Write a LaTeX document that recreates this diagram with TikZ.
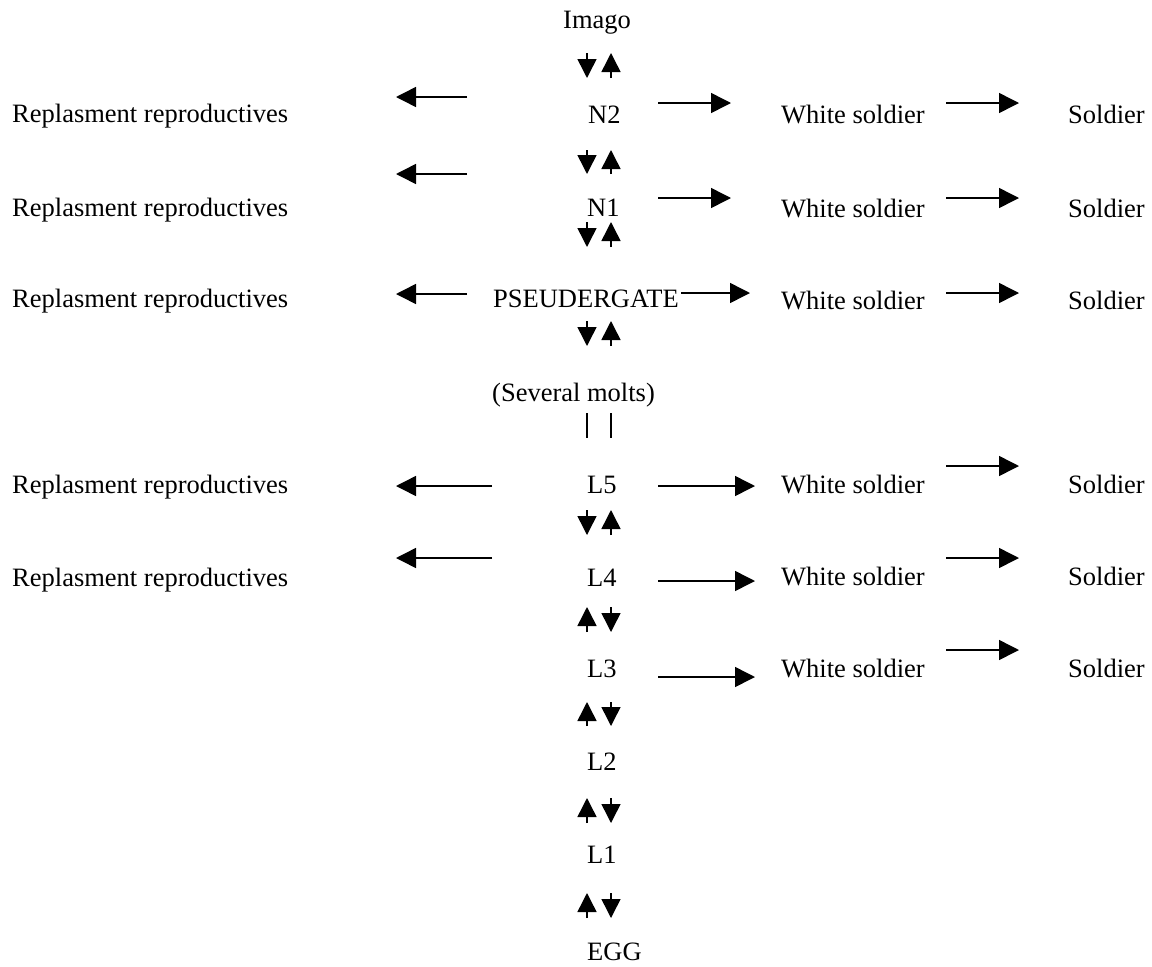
\documentclass[tikz,border=0pt]{standalone}
\usepackage{fontspec}
\setmainfont{Liberation Serif}
\usetikzlibrary{arrows.meta}
\begin{document}
\begin{tikzpicture}[x=1pt,y=-1pt,
  lbl/.style={anchor=base west,inner sep=0pt,font=\fontsize{26.5}{30}\selectfont},
  harrow/.style={line width=1.5pt,-{Triangle[length=20pt,width=20pt]}},
  varrow/.style={line width=1.5pt,-{Triangle[length=19pt,width=19pt]}},
  bar/.style={line width=1.5pt}]
\useasboundingbox (0,0) rectangle (1152,967);
% central column
\node[lbl] (imago) at (563,28) {Imago};
\node[lbl] (n2) at (588,123) {N2};
\node[lbl] (n1) at (587,216) {N1};
\node[lbl] (ps) at (493,307) {PSEUDERGATE};
\node[lbl] (molts) at (492,401) {(Several molts)};
\node[lbl] (l5) at (587,493) {L5};
\node[lbl] (l4) at (587,586) {L4};
\node[lbl] (l3) at (587,677) {L3};
\node[lbl] (l2) at (587,770) {L2};
\node[lbl] (l1) at (587,863) {L1};
\node[lbl] (egg) at (587,960) {EGG};
% left column
\node[lbl] (rr2) at (12,122) {Replasment reproductives};
\node[lbl] (rr1) at (12,216) {Replasment reproductives};
\node[lbl] (rrp) at (12,307) {Replasment reproductives};
\node[lbl] (rr5) at (12,493) {Replasment reproductives};
\node[lbl] (rr4) at (12,586) {Replasment reproductives};
% white soldiers
\node[lbl] (ws2) at (781,123) {White soldier};
\node[lbl] (ws1) at (781,217) {White soldier};
\node[lbl] (wsp) at (781,309) {White soldier};
\node[lbl] (ws5) at (781,493) {White soldier};
\node[lbl] (ws4) at (781,585) {White soldier};
\node[lbl] (ws3) at (781,677) {White soldier};
% soldiers
\node[lbl] (s2) at (1068,123) {Soldier};
\node[lbl] (s1) at (1068,217) {Soldier};
\node[lbl] (sp) at (1068,309) {Soldier};
\node[lbl] (s5) at (1068,493) {Soldier};
\node[lbl] (s4) at (1068,585) {Soldier};
\node[lbl] (s3) at (1068,677) {Soldier};
% vertical arrow pairs: top, bottom, left arrow points down (d) or up (u)
\foreach \t/\b/\dir [count=\i] in {53/78/d,150/174/d,222/247/d,321/346/d,510/535/d,607/632/u,702/726/u,798/823/u,893/918/u}{
  \coordinate (pLt\i) at (587,\t); \coordinate (pLb\i) at (587,\b);
  \coordinate (pRt\i) at (611,\t); \coordinate (pRb\i) at (611,\b);
  \if\dir d
    \draw[varrow] (pLt\i) -- (pLb\i);
    \draw[varrow] (pRb\i) -- (pRt\i);
  \else
    \draw[varrow] (pLb\i) -- (pLt\i);
    \draw[varrow] (pRt\i) -- (pRb\i);
  \fi
}
% bars under (Several molts)
\coordinate (b1t) at (587,413); \coordinate (b1b) at (587,438);
\coordinate (b2t) at (611,413); \coordinate (b2b) at (611,438);
\draw[bar] (b1t) -- (b1b);
\draw[bar] (b2t) -- (b2b);
% left arrows
\foreach \xa/\y [count=\i] in {467/97,467/174,467/294,492/486,492/558}{
  \coordinate (la\i) at (\xa,\y); \coordinate (lb\i) at (396,\y);
  \draw[harrow] (la\i) -- (lb\i);
}
% first right arrows
\foreach \xa/\xb/\y [count=\i] in {658/731/103,658/731/198,681/750/293,658/755/486,658/755/581,658/755/677}{
  \coordinate (ra\i) at (\xa,\y); \coordinate (rb\i) at (\xb,\y);
  \draw[harrow] (ra\i) -- (rb\i);
}
% second right arrows
\foreach \y [count=\i] in {103,198,293,466,558,650}{
  \coordinate (sa\i) at (946,\y); \coordinate (sb\i) at (1019,\y);
  \draw[harrow] (sa\i) -- (sb\i);
}
\end{tikzpicture}
\end{document}
